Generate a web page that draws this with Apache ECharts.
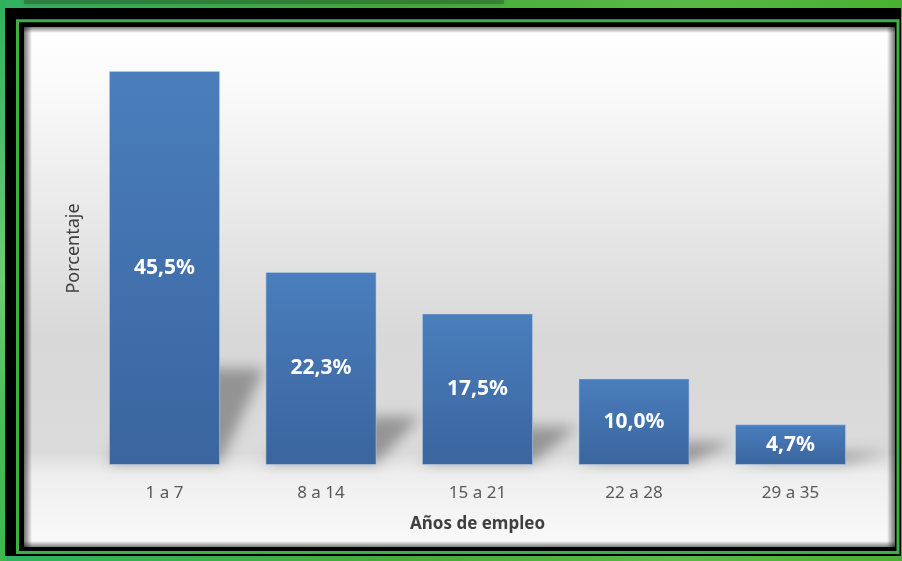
<!DOCTYPE html>
<html>
<head>
<meta charset="utf-8">
<style>
  html, body { margin: 0; padding: 0; background: #3fb04a; }
  #chart { width: 902px; height: 561px; }
</style>
<script src="https://cdn.jsdelivr.net/npm/echarts@6/dist/echarts.min.js"></script>
</head>
<body>
<div id="chart"></div>
<script>
// Años de empleo vs. porcentaje de trabajadores
const categories = ['1 a 7', '8 a 14', '15 a 21', '22 a 28', '29 a 35'];
const percentages = [45.5, 22.3, 17.5, 10.0, 4.7];
const xAxisTitle = 'Años de empleo';
const yAxisTitle = 'Porcentaje';

const W = 902, H = 561;
const chart = echarts.init(document.getElementById('chart'), null, { renderer: 'canvas' });

const lin = (x1, y1, x2, y2, stops) =>
  new echarts.graphic.LinearGradient(x1, y1, x2, y2, stops.map(([o, c]) => ({ offset: o, color: c })));

// Framed backdrop: green page, black frame, thin green rule and a grey panel
const frame = [
  { type: 'rect', z: -20, shape: { x: 0, y: 0, width: W, height: H },
    style: { fill: lin(0, 0, 1, 0, [[0, '#2fb262'], [0.45, '#45ac38'], [0.75, '#58b946'], [1, '#48b031']]) } },
  { type: 'rect', z: -19, shape: { x: 0, y: 0, width: 6, height: H },
    style: { fill: lin(0, 0, 0, 1, [[0, '#2eb05e'], [0.5, '#6ccc78'], [0.75, '#48bd58'], [1, '#3cb84f']]) } },
  { type: 'rect', z: -19, shape: { x: 24, y: -3, width: 480, height: 7 },
    style: { fill: 'rgba(40,95,45,0.5)', shadowBlur: 6, shadowColor: 'rgba(40,95,45,0.6)' } },
  { type: 'rect', z: -18, shape: { x: 5, y: 8, width: 896, height: 548 }, style: { fill: '#000' } },
  { type: 'rect', z: -17, shape: { x: 17.5, y: 20.8, width: 880.5, height: 531.7 },
    style: { fill: 'none', stroke: '#3fae45', lineWidth: 3 } },
  { type: 'rect', z: -16, shape: { x: 24, y: 27, width: 871, height: 520 },
    style: { fill: lin(0, 0, 0, 1, [[0, '#ffffff'], [0.1, '#fbfbfb'], [0.6, '#d8d8d8'], [0.82, '#dbdbdb'],
                                    [0.86, '#eeeeee'], [1, '#fafafa']]) } },
  // soft inner shadow along the panel edges
  { type: 'rect', z: -15, shape: { x: 24, y: 27, width: 8, height: 520 },
    style: { fill: lin(0, 0, 1, 0, [[0, 'rgba(0,0,0,0.55)'], [1, 'rgba(0,0,0,0)']]) } },
  { type: 'rect', z: -15, shape: { x: 887, y: 27, width: 8, height: 520 },
    style: { fill: lin(1, 0, 0, 0, [[0, 'rgba(0,0,0,0.55)'], [1, 'rgba(0,0,0,0)']]) } },
  { type: 'rect', z: -15, shape: { x: 24, y: 27, width: 871, height: 6 },
    style: { fill: lin(0, 0, 0, 1, [[0, 'rgba(0,0,0,0.5)'], [1, 'rgba(0,0,0,0)']]) } },
  { type: 'rect', z: -15, shape: { x: 24, y: 541, width: 871, height: 6 },
    style: { fill: lin(0, 1, 0, 0, [[0, 'rgba(0,0,0,0.5)'], [1, 'rgba(0,0,0,0)']]) } }
];

// Perspective shadow cast by each bar towards the upper right.
// The shape itself sits off to the left; only its blurred canvas shadow lands beside the bar.
const SHIFT = 1200;
function renderShadow(params, api) {
  const idx = api.value(0);
  const v = api.value(1);
  const top = api.coord([idx, v]);
  const base = api.coord([idx, 0]);
  const bw = api.size([1, 0])[0] * 0.71;
  const x0 = base[0] - bw / 2;
  const x1 = x0 + bw;
  const h = base[1] - top[1];
  const t = 0.24 * h;
  const d = 44;
  const y = base[1] - 2;
  return {
    type: 'polygon',
    shape: { points: [[x0 - SHIFT, y], [x1 - SHIFT, y], [x1 + d - SHIFT, y - t], [x0 + d - SHIFT, y - t]] },
    style: { fill: '#000', shadowBlur: 14, shadowColor: 'rgba(0,0,0,0.32)', shadowOffsetX: SHIFT }
  };
}

chart.setOption({
  animation: false,
  backgroundColor: 'transparent',
  graphic: frame,
  grid: { left: 86.25, right: 33.25, top: 32, bottom: 96 },
  xAxis: {
    type: 'category',
    data: categories,
    axisLine: { show: false },
    axisTick: { show: false },
    axisLabel: { color: '#595959', fontFamily: 'Noto Sans', fontSize: 17, margin: 20 },
    name: xAxisTitle,
    nameLocation: 'middle',
    nameGap: 51,
    nameTextStyle: { color: '#404040', fontFamily: 'Noto Sans', fontWeight: 'bold', fontSize: 17 }
  },
  yAxis: {
    type: 'value',
    min: 0,
    max: 50,
    axisLine: { show: false },
    axisTick: { show: false },
    axisLabel: { show: false },
    splitLine: { show: false },
    name: yAxisTitle,
    nameLocation: 'middle',
    nameRotate: 90,
    nameGap: 3,
    nameTextStyle: { color: '#404040', fontFamily: 'Noto Sans', fontSize: 18 }
  },
  series: [
    {
      type: 'custom',
      z: 1,
      silent: true,
      clip: false,
      renderItem: renderShadow,
      data: percentages.map((v, i) => [i, v])
    },
    {
      type: 'bar',
      z: 2,
      barWidth: '71%',
      data: percentages,
      itemStyle: {
        color: lin(0, 0, 0, 1, [[0, '#4a7ebd'], [1, '#3a659e']]),
        borderColor: 'rgba(190,210,235,0.55)',
        borderWidth: 1
      },
      label: {
        show: true,
        position: 'inside',
        color: '#ffffff',
        fontFamily: 'Noto Sans',
        fontWeight: 'bold',
        fontSize: 21,
        formatter: p => p.value.toFixed(1).replace('.', ',') + '%'
      }
    }
  ]
});
</script>
</body>
</html>
